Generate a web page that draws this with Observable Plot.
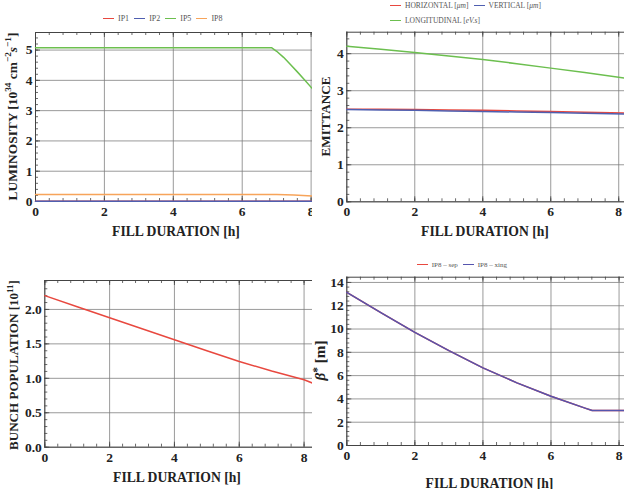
<!DOCTYPE html>
<html>
<head>
<meta charset="utf-8">
<script src="https://cdn.jsdelivr.net/npm/d3@7"></script>
<script src="https://cdn.jsdelivr.net/npm/@observablehq/plot@0.6"></script>
<style>
  body { margin: 0; background: #fff; }
  #wrap { position: relative; width: 624px; height: 489px; overflow: hidden; background: #fff;
          font-family: "Liberation Serif", "Times New Roman", serif; }
  .panel { position: absolute; }
  .leg { position: absolute; display: flex; align-items: center; white-space: nowrap; color: #555; }
  .leg .sw { display: inline-block; width: 11px; height: 1.6px; margin-right: 4px; }
  .leg .it { display: flex; align-items: center; margin-right: 5px; }
</style>
</head>
<body>
<div id="wrap"></div>
<script>
// ---------- DATA ----------
// Luminosity panel [1e34 cm^-2 s^-1]
const ip1Time = [0, 8.04];
const ip1Lumi = [0.01, 0.01];
const ip2Time = [0, 8.04];
const ip2Lumi = [0.01, 0.01];
const ip5Time = [0, 6.85, 7.0, 7.2, 7.4, 7.6, 7.8, 8.04];
const ip5Lumi = [5.08, 5.08, 4.96, 4.76, 4.52, 4.28, 4.03, 3.72];
const ip8Time = [0, 7.0, 7.5, 8.04];
const ip8Lumi = [0.23, 0.23, 0.215, 0.18];

// Emittance panel
const emitTime = [0, 1, 2, 3, 4, 5, 6, 7, 8.17];
const emitHor  = [2.50, 2.50, 2.49, 2.48, 2.47, 2.455, 2.44, 2.42, 2.40];
const emitVer  = [2.49, 2.48, 2.47, 2.455, 2.44, 2.425, 2.41, 2.39, 2.37];
const emitLong = [4.20, 4.12, 4.03, 3.94, 3.84, 3.73, 3.61, 3.49, 3.34];

// Bunch population panel [1e11]
const bunchTime = [0, 1, 2, 3, 4, 5, 6, 7, 8, 8.26];
const bunchPop  = [2.20, 2.04, 1.88, 1.72, 1.56, 1.40, 1.245, 1.105, 0.98, 0.93];

// Beta* panel [m]
const betaTime = [0, 1, 2, 3, 4, 5, 6, 7, 7.21, 8.16];
const betaSep  = [13.15, 11.4, 9.72, 8.15, 6.67, 5.38, 4.23, 3.21, 3.0, 3.0];
const betaXing = [13.15, 11.4, 9.72, 8.15, 6.67, 5.38, 4.23, 3.21, 3.0, 3.0];

// Ticks
const xTicks = [0, 2, 4, 6, 8];
const xMinor = d3.range(0, 8.4, 0.4);
const lumiTicks = [0, 1, 2, 3, 4, 5];
const lumiMinor = d3.range(0, 5.6, 0.2);
const emitTicks = [0, 1, 2, 3, 4];
const emitMinor = d3.range(0, 4.6, 0.2);
const bunchTicks = [0, 0.5, 1.0, 1.5, 2.0];
const bunchMinor = d3.range(0, 2.45, 0.1);
const betaTicks = [0, 2, 4, 6, 8, 10, 12, 14];
const betaMinor = d3.range(0, 14.45, 0.4);

const RED = "#e8483f", BLUE = "#4f5fb0", GREEN = "#6cbf4f", ORANGE = "#f7a45a", PURPLE = "#5554ae";
const SERIF = "'Liberation Serif', 'Times New Roman', serif";

const pts = (xs, ys) => xs.map((x, i) => ({x, y: ys[i]}));

const wrap = document.getElementById("wrap");

function fitText(t, target) {
  const len = t.node().getComputedTextLength();
  if (len > 0) {
    const k = target / len;
    t.attr("font-size", 14.5 * k);
    t.selectAll("tspan").each(function () {
      const s = d3.select(this);
      if (s.attr("font-size")) s.attr("font-size", +s.attr("font-size") * k);
      if (s.attr("dy")) s.attr("dy", +s.attr("dy") * k);
    });
  }
}

function panel(o) {
  const ih = o.height - o.mt - o.mb;
  const tickStyle = {stroke: "#444", strokeWidth: 0.8};
  const plot = Plot.plot({
    width: o.width, height: o.height,
    marginLeft: o.ml, marginTop: o.mt, marginBottom: o.mb, marginRight: 0,
    x: {domain: [0, o.xmax]},
    y: {domain: [0, o.ymax]},
    style: {fontFamily: SERIF, background: "white", color: "#222"},
    marks: [
      Plot.gridX(xTicks, {stroke: "#7a7a7a", strokeOpacity: 0.85, strokeWidth: 0.9}),
      Plot.gridY(o.yticks, {stroke: "#7a7a7a", strokeOpacity: 0.85, strokeWidth: 0.9}),
      Plot.ruleX(xMinor, {x: d => d, insetTop: ih - 3, ...tickStyle}),
      Plot.ruleX(xMinor, {x: d => d, insetBottom: ih - 3, ...tickStyle}),
      Plot.ruleX(xTicks, {x: d => d, insetTop: ih - 5, ...tickStyle}),
      Plot.ruleX(xTicks, {x: d => d, insetBottom: ih - 5, ...tickStyle}),
      Plot.ruleY(o.yminor, {y: d => d, insetRight: o.width - o.ml - 3, ...tickStyle}),
      Plot.ruleY(o.yticks, {y: d => d, insetRight: o.width - o.ml - 5, ...tickStyle}),
      Plot.frame({stroke: "#444", strokeWidth: 1}),
      Plot.axisX(xTicks, {tickSize: 0, tickPadding: 5, fontSize: 13.5, fontWeight: "bold", fontFamily: SERIF, label: null}),
      Plot.axisY(o.yticks, {tickSize: 0, tickPadding: 3, fontSize: 13.5, fontWeight: "bold", fontFamily: SERIF, label: null,
                            tickFormat: o.fmt || (d => String(d))}),
      ...o.series.map(s => Plot.line(pts(s.x, s.y), {x: "x", y: "y", stroke: s.color, strokeWidth: 1.5}))
    ]
  });
  plot.classList.add("panel");
  plot.style.left = o.left + "px";
  plot.style.top = o.top + "px";
  wrap.appendChild(plot);
  const svg = d3.select(plot);
  // x label
  const xt = svg.append("text")
    .attr("x", o.xlabX).attr("y", o.xlabY)
    .attr("text-anchor", "middle").attr("font-size", 14.5).attr("font-weight", "bold")
    .attr("font-family", SERIF).attr("fill", "#222").text("FILL DURATION [h]");
  fitText(xt, 128);
  // y label
  const t = svg.append("text")
    .attr("transform", `translate(${o.ylabX},${o.ylabY}) rotate(-90)`)
    .attr("text-anchor", "middle").attr("font-size", 14.5).attr("font-weight", "bold")
    .attr("font-family", SERIF).attr("fill", "#222");
  o.ylab(t);
  fitText(t, o.ylabLen);
}

// Panel 1: luminosity
panel({
  left: 0, top: 0, width: 312, height: 250, ml: 35, mt: 32, mb: 49,
  xmax: 8.04, ymax: 5.58, yticks: lumiTicks, yminor: lumiMinor,
  series: [
    {x: ip1Time, y: ip1Lumi, color: RED},
    {x: ip2Time, y: ip2Lumi, color: BLUE},
    {x: ip8Time, y: ip8Lumi, color: ORANGE},
    {x: ip5Time, y: ip5Lumi, color: GREEN}
  ],
  xlabX: 176, xlabY: 236, ylabX: 17, ylabY: 116.5, ylabLen: 168,
  ylab: t => {
    t.append("tspan").text("LUMINOSITY [10");
    t.append("tspan").attr("dy", -6).attr("font-size", 10).text("34");
    t.append("tspan").attr("dy", 6).text(" cm");
    t.append("tspan").attr("dy", -6).attr("font-size", 10).text("\u22122");
    t.append("tspan").attr("dy", 6).attr("font-style", "italic").text("s");
    t.append("tspan").attr("dy", -6).attr("font-size", 10).text("\u22121");
    t.append("tspan").attr("dy", 6).text("]");
  }
});

// Panel 2: emittance
panel({
  left: 312, top: 0, width: 312, height: 250, ml: 34.3, mt: 31.7, mb: 48.7,
  xmax: 8.17, ymax: 4.58, yticks: emitTicks, yminor: emitMinor,
  series: [
    {x: emitTime, y: emitLong, color: GREEN},
    {x: emitTime, y: emitHor, color: RED},
    {x: emitTime, y: emitVer, color: BLUE}
  ],
  xlabX: 173, xlabY: 236, ylabX: 18, ylabY: 116.5, ylabLen: 80,
  ylab: t => t.text("EMITTANCE")
});

// Panel 3: bunch population
panel({
  left: 0, top: 250, width: 312, height: 239, ml: 44.3, mt: 30, mb: 42.3,
  xmax: 8.26, ymax: 2.42, yticks: bunchTicks, yminor: bunchMinor, fmt: d3.format(".1f"),
  series: [{x: bunchTime, y: bunchPop, color: RED}],
  xlabX: 177, xlabY: 232, ylabX: 18, ylabY: 115, ylabLen: 170,
  ylab: t => {
    t.append("tspan").text("BUNCH POPULATION [10");
    t.append("tspan").attr("dy", -6).attr("font-size", 10).text("11");
    t.append("tspan").attr("dy", 6).text("]");
  }
});

// Panel 4: beta*
panel({
  left: 312, top: 250, width: 312, height: 239, ml: 34.3, mt: 26.7, mb: 44,
  xmax: 8.16, ymax: 14.45, yticks: betaTicks, yminor: betaMinor,
  series: [
    {x: betaTime, y: betaSep, color: RED},
    {x: betaTime, y: betaXing, color: PURPLE}
  ],
  xlabX: 177.5, xlabY: 237.5, ylabX: 13, ylabY: 110.5, ylabLen: 40,
  ylab: t => {
    t.append("tspan").attr("font-style", "italic").text("\u03B2");
    t.append("tspan").attr("dy", -4).attr("font-size", 11).text("*");
    t.append("tspan").attr("dy", 4).text(" [m]");
  }
});

// ---------- LEGENDS ----------
function legend(left, top, fontSize, items, gap) {
  const d = document.createElement("div");
  d.className = "leg";
  d.style.left = left + "px";
  d.style.top = top + "px";
  d.style.fontSize = fontSize + "px";
  items.forEach(([label, color]) => {
    const it = document.createElement("span");
    it.className = "it";
    it.style.marginRight = gap + "px";
    const sw = document.createElement("span");
    sw.className = "sw";
    sw.style.background = color;
    const tx = document.createElement("span");
    tx.innerHTML = label;
    it.appendChild(sw); it.appendChild(tx);
    d.appendChild(it);
  });
  wrap.appendChild(d);
}

const lumiLegend = [["IP1", RED], ["IP2", BLUE], ["IP5", GREEN], ["IP8", ORANGE]];
legend(103, 14, 8, lumiLegend, 5);

const emitLegendRow1 = [["HORIZONTAL [<i>\u03BCm</i>]", RED], ["VERTICAL [<i>\u03BCm</i>]", BLUE]];
const emitLegendRow2 = [["LONGITUDINAL [<i>eV.s</i>]", GREEN]];
legend(390, 1, 7.5, emitLegendRow1, 5);
legend(390, 16, 7.5, emitLegendRow2, 5);

const betaLegend = [["IP8 \u2013 sep", RED], ["IP8 \u2013 xing", PURPLE]];
legend(416.7, 260.5, 7, betaLegend, 5);
</script>
</body>
</html>
